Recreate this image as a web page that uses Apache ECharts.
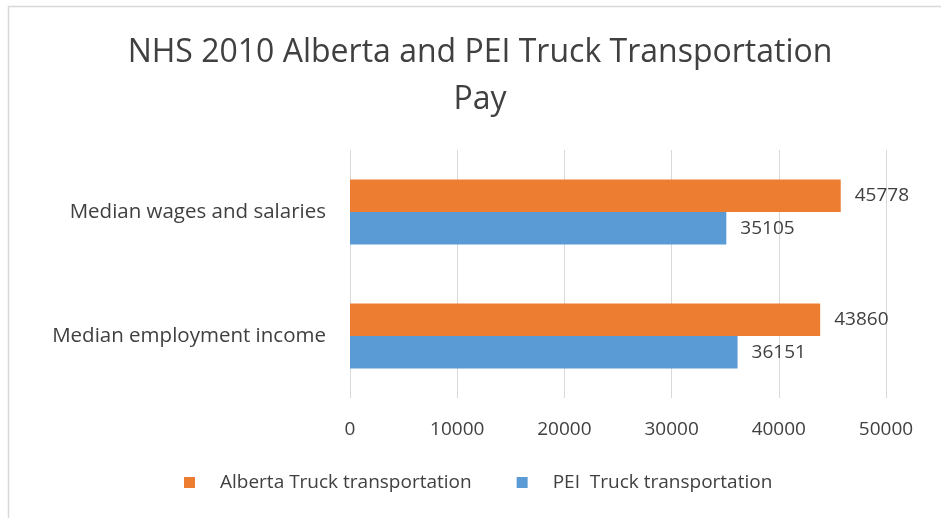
<!DOCTYPE html>
<html>
<head>
<meta charset="utf-8">
<script src="https://cdn.jsdelivr.net/npm/echarts@6/dist/echarts.min.js"></script>
<style>html,body{margin:0;padding:0;background:#fff}#c{width:941px;height:518px}</style>
</head>
<body>
<div id="c"></div>
<script>
const titleText = 'NHS 2010 Alberta and PEI Truck Transportation\nPay';
const categories = ['Median employment income', 'Median wages and salaries'];
const albertaName = 'Alberta Truck transportation';
const peiName = 'PEI  Truck transportation';
const albertaValues = [43860, 45778];
const peiValues = [36151, 35105];
const xTicks = [0, 10000, 20000, 30000, 40000, 50000];

const FONT = '"Open Sans", sans-serif';
const chart = echarts.init(document.getElementById('c'), null, {renderer: 'canvas'});
chart.setOption({
  animation: false,
  backgroundColor: '#ffffff',
  graphic: [{
    type: 'rect', left: 6, top: 4, shape: {width: 1000, height: 600},
    style: {fill: 'none', stroke: '#d9d9d9', lineWidth: 1.5}, silent: true
  }],
  title: {
    text: titleText, left: 475, textAlign: 'center', top: 24,
    textStyle: {fontFamily: FONT, fontSize: 32, fontWeight: 'normal', color: '#404040', lineHeight: 47}
  },
  legend: {
    data: [albertaName, peiName],
    left: 184, top: 473, padding: 0, icon: 'rect', itemWidth: 11, itemHeight: 11, itemGap: 45,
    textStyle: {fontFamily: FONT, fontSize: 19, color: '#404040', padding: [0, 0, 0, 20]}
  },
  grid: {left: 350, right: 55, top: 150, bottom: 120, containLabel: false},
  xAxis: {
    type: 'value', min: xTicks[0], max: xTicks[xTicks.length - 1], interval: xTicks[1] - xTicks[0],
    axisLine: {show: false}, axisTick: {show: false},
    splitLine: {show: true, lineStyle: {color: '#d9d9d9', width: 1}},
    axisLabel: {fontFamily: FONT, fontSize: 19, color: '#404040', margin: 22, formatter: v => String(v)}
  },
  yAxis: {
    type: 'category', data: categories,
    axisLine: {show: false}, axisTick: {show: false},
    axisLabel: {fontFamily: FONT, fontSize: 20.5, color: '#404040', margin: 24}
  },
  series: [
    {
      name: albertaName, type: 'bar', data: albertaValues, barGap: '0%', barCategoryGap: '47.6%',
      itemStyle: {color: '#ed7d31'},
      label: {show: true, position: 'right', distance: 14, fontFamily: FONT, fontSize: 19, color: '#404040'}
    },
    {
      name: peiName, type: 'bar', data: peiValues, barGap: '0%', barCategoryGap: '47.6%',
      itemStyle: {color: '#5b9bd5'},
      label: {show: true, position: 'right', distance: 14, fontFamily: FONT, fontSize: 19, color: '#404040'}
    }
  ]
});
</script>
</body>
</html>
